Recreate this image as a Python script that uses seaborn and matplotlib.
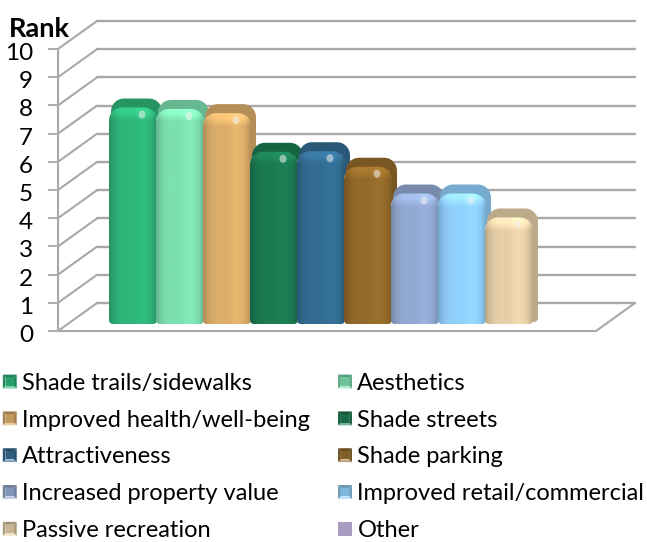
import numpy as np
import matplotlib
matplotlib.use('Agg')
import matplotlib.pyplot as plt
from matplotlib.legend_handler import HandlerBase
from matplotlib.patches import Patch, Polygon, Ellipse
from matplotlib.transforms import ScaledTranslation
import seaborn as sns

categories = ['Shade trails/sidewalks', 'Aesthetics', 'Improved health/well-being',
              'Shade streets', 'Attractiveness', 'Shade parking',
              'Increased property value', 'Improved retail/commercial', 'Passive recreation']
ranks = [7.5, 7.45, 7.3, 5.93, 5.95, 5.4, 4.45, 4.45, 3.6]
colors = ['#2fb57a', '#7de0b0', '#dcae6a', '#1c7a52', '#336d92', '#946a2a',
          '#92a9d2', '#90d0fc', '#e6cfa8']
other_label = 'Other'
other_color = '#a89cc0'
rank_ticks = list(range(11))

W, H = 647, 542
PX_X = 47.0   # pixels per bar slot
PX_Y = 28.2   # pixels per rank
LEFT, RIGHT, TOP, BOTTOM = 58, 635, 19, 331
FIRST_BAR = 133
WALL_COL = '#a8a8a8'

sns.set_style('white')
plt.rcParams['font.family'] = ['Lato', 'DejaVu Sans']

fig = plt.figure(figsize=(W / 100, H / 100), dpi=100)
ax = fig.add_axes([LEFT / W, 1 - BOTTOM / H, (RIGHT - LEFT) / W, (BOTTOM - TOP) / H])

base = 8 / PX_Y
sns.barplot(x=categories, y=ranks, hue=categories, palette=colors, saturation=1,
            width=48 / PX_X, bottom=base, legend=False, ax=ax)

xlim = ((LEFT - FIRST_BAR) / PX_X, (RIGHT - FIRST_BAR) / PX_X)
ylim = (0, (BOTTOM - TOP) / PX_Y)

# walls and floor of the 3d box
dx, dy = 39 / PX_X, 28 / PX_Y
x0 = xlim[0]
x1 = xlim[1] - dx
for r in rank_ticks:
    ax.plot([x0, x0 + dx], [r, r + dy], color=WALL_COL, lw=1.5, zorder=1, clip_on=False)
    ax.plot([x0 + dx, xlim[1]], [r + dy, r + dy], color=WALL_COL, lw=1.7, zorder=1, clip_on=False)
ax.plot([x0, x1, x1 + dx], [0, 0, dy], color=WALL_COL, lw=1.5, zorder=1, clip_on=False)


def rounded(l, r, b, t, rad_px, rad_bottom_px=4):
    # outline in data coords with rounded corners given in pixels
    rx, ry = rad_px / PX_X, rad_px / PX_Y
    bx, by = rad_bottom_px / PX_X, rad_bottom_px / PX_Y
    a = np.linspace(0, np.pi / 2, 12)
    pts = []
    pts += list(zip(r - bx + bx * np.sin(a), b + by - by * np.cos(a)))
    pts += list(zip(r - rx + rx * np.cos(a), t - ry + ry * np.sin(a)))
    pts += list(zip(l + rx - rx * np.sin(a), t - ry + ry * np.cos(a)))
    pts += list(zip(l + bx - bx * np.cos(a), b + by - by * np.sin(a)))
    return np.array(pts)


profile = np.array([0.8, 0.92, 0.98, 1.0, 1.0, 1.0, 1.03, 1.05, 1.03, 0.97, 0.82])
bars = sorted(ax.patches, key=lambda p: p.get_x())
for i, bar in enumerate(bars):
    l, w = bar.get_x(), bar.get_width()
    r = l + w
    b = bar.get_y()
    t = b + bar.get_height()
    rgb = np.array(matplotlib.colors.to_rgb(colors[i]))
    z = 3 + i * 0.1

    # back and side of the bar
    back = Polygon(rounded(l + 2 / PX_X, r + 5 / PX_X, b + 1 / PX_Y, t + 13 / PX_Y, 13),
                   closed=True, fc=rgb * 0.82, ec='none', zorder=z)
    ax.add_patch(back)

    # front face with the round shading
    top = t + 4 / PX_Y
    outline = Polygon(rounded(l, r, b - 1 / PX_Y, top, 13), closed=True,
                      fc='none', ec='none', zorder=z + 0.01)
    ax.add_patch(outline)
    bar.set_zorder(z + 0.02)
    bar.set_clip_path(outline)

    # rows are one pixel each so the bright rim keeps the same size on all bars
    rows = int((top - b + 1 / PX_Y) * PX_Y)
    vert = np.ones(rows)
    vert[:14] = np.interp(np.arange(14), [0, 5, 13], [1.16, 1.14, 1.0])
    across = np.interp(np.linspace(0, 1, 80), np.linspace(0, 1, len(profile)), profile)
    shade = np.outer(vert, across)
    im = ax.imshow(np.clip(shade[..., None] * rgb, 0, 1), extent=(l, r, b - 1 / PX_Y, top),
                   aspect='auto', origin='upper', zorder=z + 0.03, interpolation='bilinear')
    im.set_clip_path(outline)

    # small glint on the shoulder
    ax.add_patch(Ellipse((r - 15 / PX_X, t - 3 / PX_Y), 7 / PX_X, 8 / PX_Y, angle=0,
                         fc=np.clip(rgb * 0.35 + 0.65, 0, 1), ec='none', alpha=0.8, zorder=z + 0.04))

ax.set_xlim(*xlim)
ax.set_ylim(*ylim)

for s in ['top', 'right', 'bottom']:
    ax.spines[s].set_visible(False)
ax.spines['left'].set_color(WALL_COL)
ax.spines['left'].set_linewidth(1.5)
ax.spines['left'].set_bounds(0, 10)
ax.set_xticks([])
ax.set_yticks(rank_ticks)
ax.tick_params(axis='y', length=7, width=1.3, color=WALL_COL, labelsize=17.5,
               labelcolor='black', left=True, pad=11)
for lab in ax.get_yticklabels():
    lab.set_transform(lab.get_transform() + ScaledTranslation(0, -2.5 / 100, fig.dpi_scale_trans))
ax.set_ylabel('Rank', rotation=0, fontsize=19.5, fontweight='bold', color='black')
ax.yaxis.set_label_coords(-19 / (RIGHT - LEFT), 1 - 22 / (BOTTOM - TOP))
ax.patch.set_alpha(0)


class BevelHandler(HandlerBase):
    # little square with bevelled edges, as in the bar legend keys
    def create_artists(self, legend, orig, xdescent, ydescent, width, height, fontsize, trans):
        s = 10.0
        x, y = 0, (height - s) / 2
        col = np.array(matplotlib.colors.to_rgb(orig.get_facecolor()))
        if orig.get_label() == other_label:
            return [Polygon([(x, y), (x + s, y), (x + s, y + s), (x, y + s)], fc=col, ec='none', transform=trans)]
        inner = [(x + 2, y + 2), (x + s - 2, y + 2), (x + s - 2, y + s - 2), (x + 2, y + s - 2)]
        corners = [(x, y), (x + s, y), (x + s, y + s), (x, y + s)]
        tones = [np.clip(col * 0.6 + 0.4, 0, 1), col * 0.75, col * 0.7, col * 0.75]
        arts = []
        for k in range(4):
            arts.append(Polygon([corners[k], corners[(k + 1) % 4], inner[(k + 1) % 4], inner[k]],
                                fc=tones[k], ec='none', transform=trans))
        arts.append(Polygon(inner, fc=col * 0.88, ec='none', transform=trans))
        return arts


leg_labels = categories + [other_label]
leg_colors = colors + [other_color]
handles = {n: Patch(facecolor=c, label=n) for n, c in zip(leg_labels, leg_colors)}
# row order reads across, matplotlib fills columns
order = [0, 2, 4, 6, 8, 1, 3, 5, 7, 9]
hs = [handles[leg_labels[k]] for k in order]
fig.legend(handles=hs, labels=[leg_labels[k] for k in order], ncol=2, frameon=False,
           loc='upper left', bbox_to_anchor=(0.0, 1 - 370 / H), borderaxespad=0, borderpad=0.12,
           fontsize=17, labelspacing=0.67, columnspacing=1.18, handlelength=0.6,
           handletextpad=0.22, handler_map={Patch: BevelHandler()}, labelcolor='black')

fig.savefig('out.png', dpi=100, facecolor='white')
